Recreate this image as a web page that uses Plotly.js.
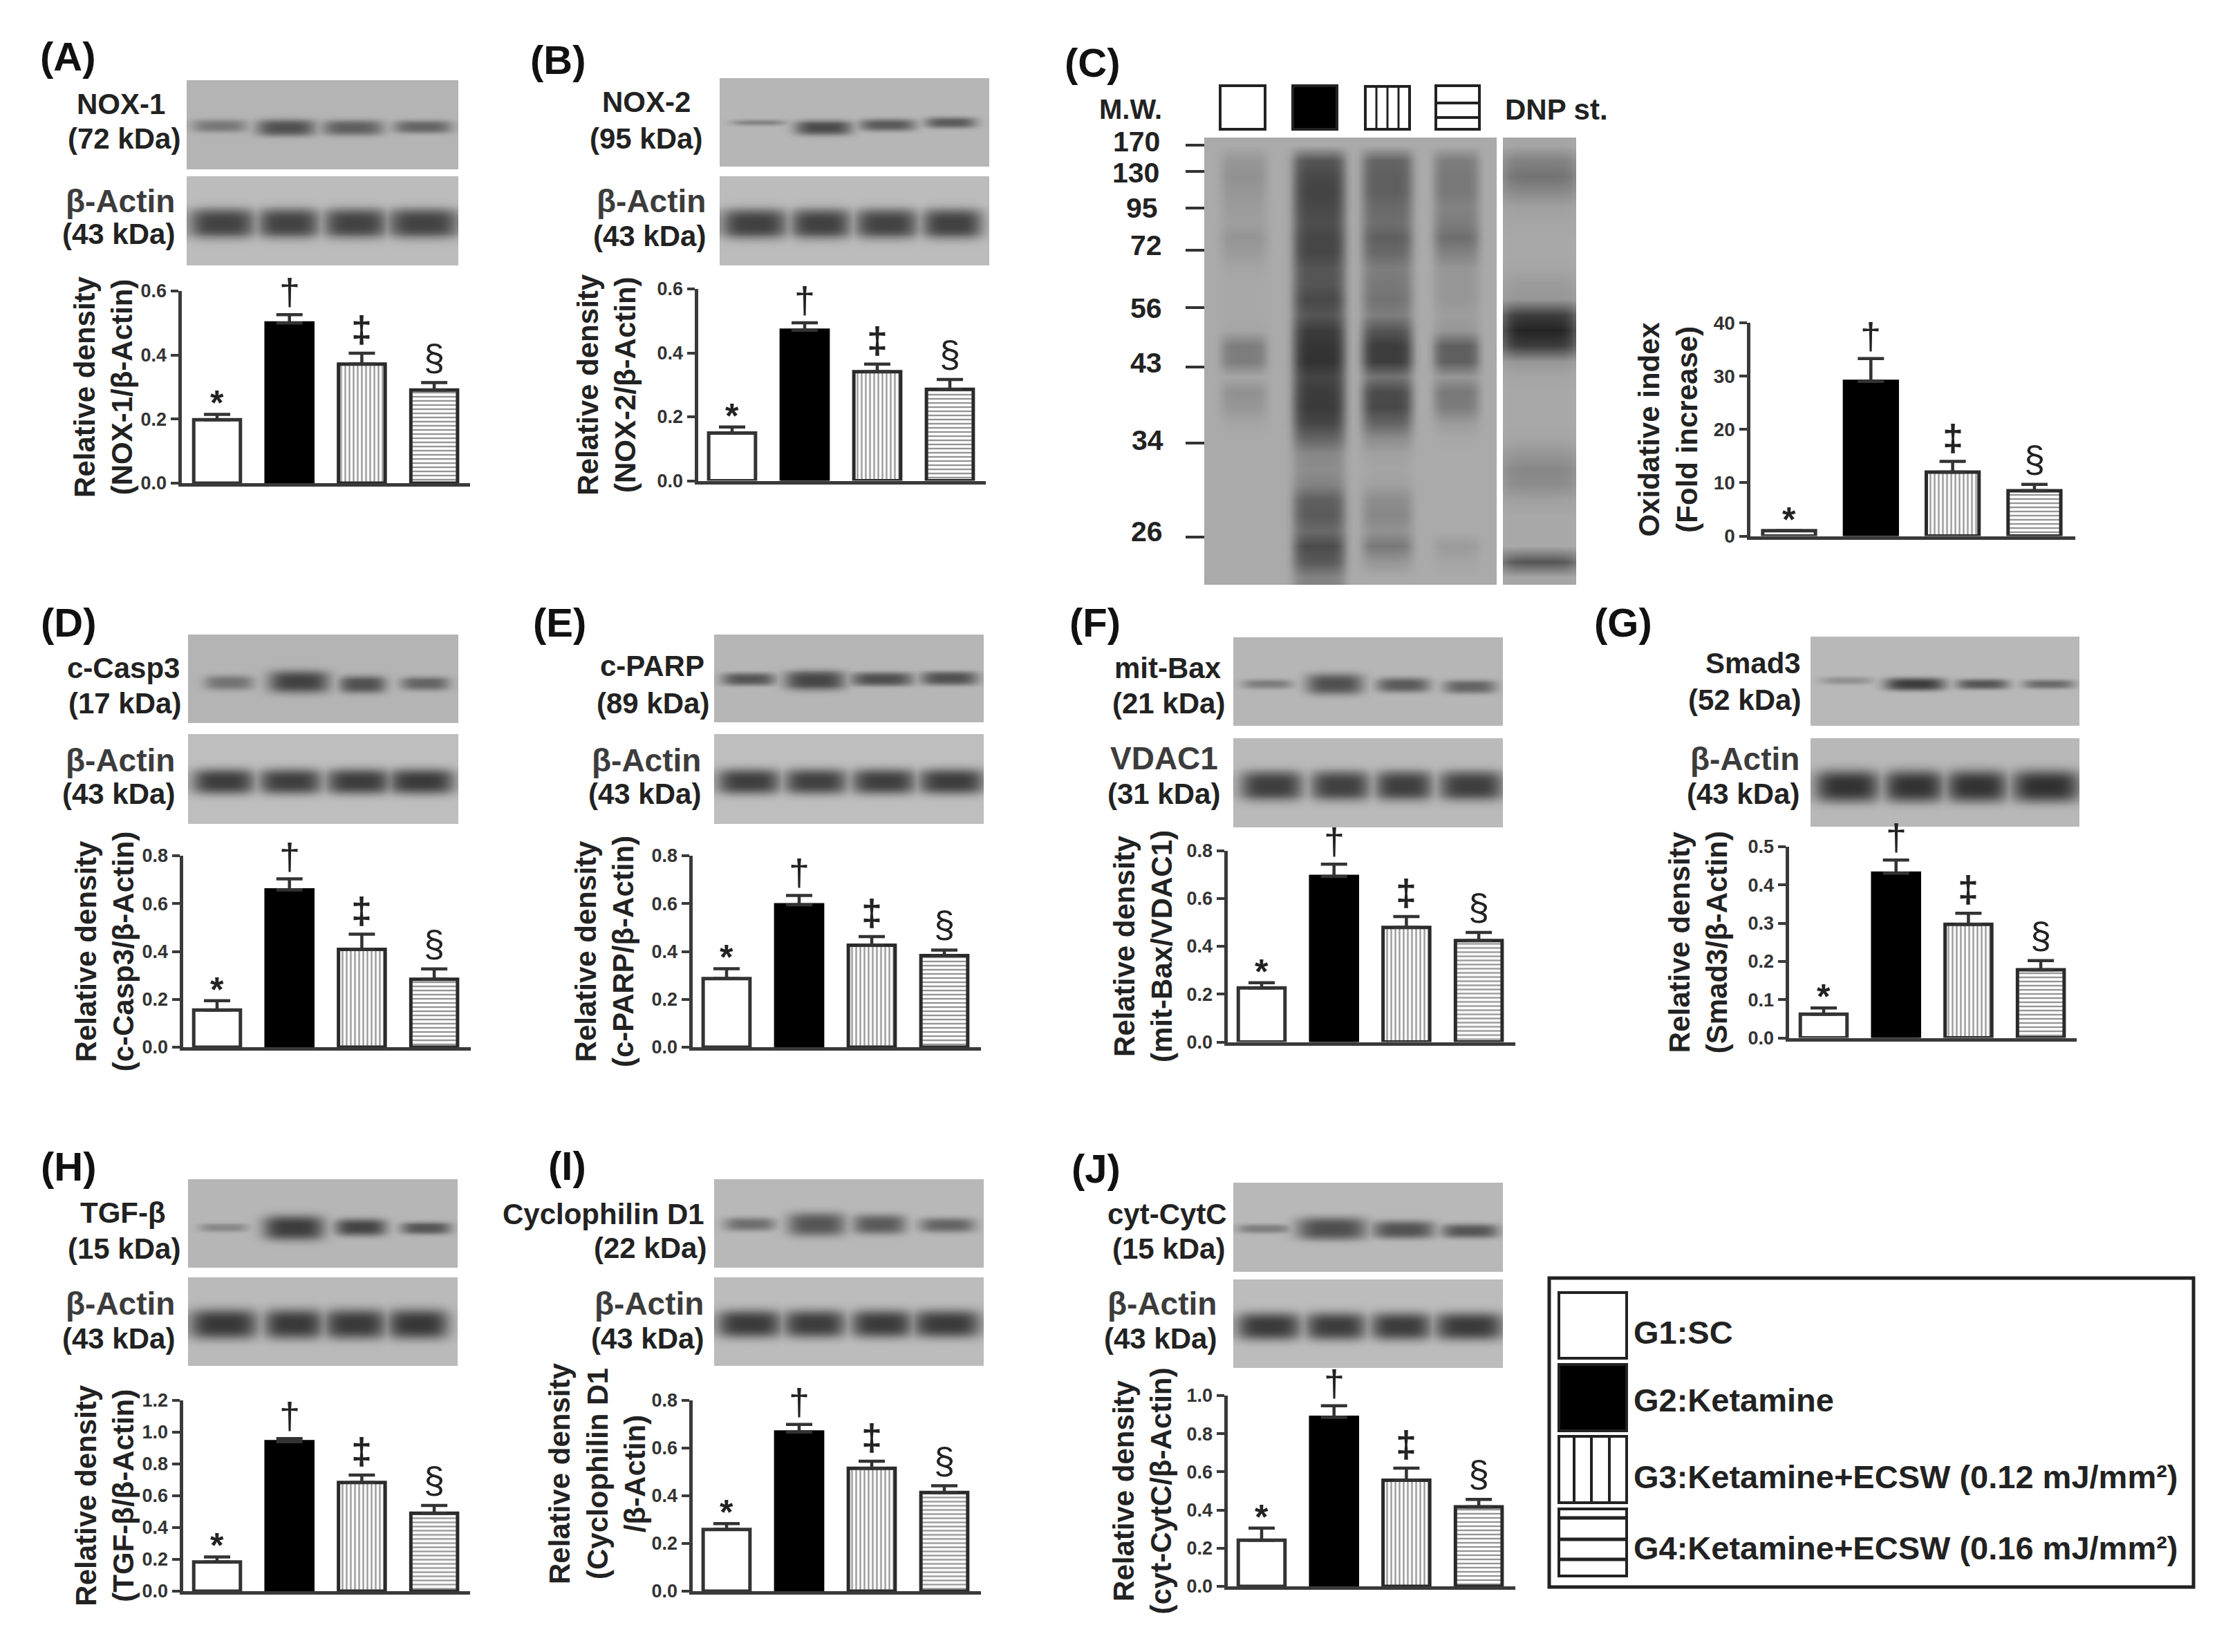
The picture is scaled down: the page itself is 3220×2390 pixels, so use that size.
<!DOCTYPE html>
<html><head><meta charset="utf-8">
<script src="https://cdn.plot.ly/plotly-3.0.1.min.js"></script>
<style>html,body{margin:0;padding:0;background:#fff}#chart{width:3220px;height:2390px}</style>
</head><body><div id="chart"></div>
<script>
// ---------- chart values ----------
const groups = ['G1', 'G2', 'G3', 'G4'];
const marks = ['*', '†', '‡', '§'];
const legendLabels = ['G1:SC', 'G2:Ketamine', 'G3:Ketamine+ECSW (0.12 mJ/mm²)', 'G4:Ketamine+ECSW (0.16 mJ/mm²)'];

const noxOneMean = [0.198, 0.500, 0.372, 0.291],  noxOneErr = [0.017, 0.026, 0.034, 0.023];
const noxTwoMean = [0.149, 0.471, 0.341, 0.286],  noxTwoErr = [0.019, 0.023, 0.024, 0.031];
const oxidMean   = [1.0, 29.0, 12.0, 8.5],        oxidErr   = [0, 4.3, 2.0, 1.2];
const caspMean   = [0.155, 0.657, 0.409, 0.284],  caspErr   = [0.039, 0.046, 0.063, 0.043];
const parpMean   = [0.287, 0.595, 0.426, 0.383],  parpErr   = [0.041, 0.039, 0.036, 0.023];
const baxMean    = [0.226, 0.692, 0.479, 0.424],  baxErr    = [0.022, 0.051, 0.045, 0.034];
const smadMean   = [0.062, 0.431, 0.297, 0.178],  smadErr   = [0.016, 0.034, 0.029, 0.024];
const tgfMean    = [0.183, 0.938, 0.682, 0.489],  tgfErr    = [0.032, 0.020, 0.047, 0.049];
const cypMean    = [0.258, 0.666, 0.514, 0.413],  cypErr    = [0.025, 0.032, 0.030, 0.028];
const cytcMean   = [0.242, 0.886, 0.556, 0.417],  cytcErr   = [0.063, 0.061, 0.064, 0.039];

const ticksSix  = ['0.0', '0.2', '0.4', '0.6'];
const ticksEight = ['0.0', '0.2', '0.4', '0.6', '0.8'];
const ticksOxid = ['0', '10', '20', '30', '40'];
const ticksSmad = ['0.0', '0.1', '0.2', '0.3', '0.4', '0.5'];
const ticksTgf  = ['0.0', '0.2', '0.4', '0.6', '0.8', '1.0', '1.2'];
const ticksCytc = ['0.0', '0.2', '0.4', '0.6', '0.8', '1.0'];

// Band darkness per lane (grey level at the band core), target blot then loading control
const tonesNoxOne = [120, 80, 95, 100],  tonesActinA = [66, 66, 66, 66];
const tonesNoxTwo = [130, 75, 90, 90],   tonesActinB = [64, 64, 66, 64];
const tonesCasp   = [115, 65, 80, 100],  tonesActinD = [60, 62, 60, 58];
const tonesParp   = [85, 70, 78, 80],    tonesActinE = [62, 64, 62, 60];
const tonesBax    = [125, 80, 90, 100],  tonesVdac   = [62, 64, 62, 62];
const tonesSmad   = [145, 60, 85, 105],  tonesActinG = [50, 50, 50, 48];
const tonesTgf    = [135, 60, 68, 85],   tonesActinH = [55, 57, 57, 55];
const tonesCyp    = [110, 85, 90, 100],  tonesActinI = [58, 60, 58, 58];
const tonesCytc   = [125, 78, 82, 85],   tonesActinJ = [58, 60, 60, 58];

// Oxidized-protein gel: grey level down each lane, top to bottom
const gelG1 = [170,150,145,150,155,158,148,155,165,168,168,168,165,125,125,165,145,150,165,170,170,170,170,170,170,170,170,170,170];
const gelG2 = [170,85,72,68,72,78,70,70,85,85,72,85,60,52,50,68,60,58,70,100,135,140,130,95,90,105,75,90,130];
const gelG3 = [170,100,95,95,105,110,95,105,125,120,115,125,85,60,60,115,75,72,100,140,160,165,160,140,135,145,120,150,170];
const gelG4 = [170,125,120,120,130,125,110,130,150,150,150,158,150,95,95,150,120,125,155,168,170,170,170,170,170,170,155,165,170];
const gelDnp = [165,130,115,135,160,165,168,168,165,155,150,60,35,60,150,165,168,168,168,165,150,135,140,160,168,168,168,85,165];
const gelMarkers = ['170', '130', '95', '72', '56', '43', '34', '26'];

// ---------- page geometry ----------
const W = 3220, H = 2390;
const FONT = '"Liberation Sans", Arial, sans-serif';
const INK = '#222222', AXIS = '#3a3a3a';
const xp = x => x / W, yp = y => 1 - y / H;

const panels = [
  {id:'A', label:[56,82],   mean:noxOneMean, err:noxOneErr, ticks:ticksSix,  box:[260,680,421,701.5],  first:314,  step:104.7, off:0,
   title:'Relative density<br>(NOX-1/β-Actin)'},
  {id:'B', label:[765,87],  mean:noxTwoMean, err:noxTwoErr, ticks:ticksSix,  box:[1007,1426,418,698],  first:1059, step:105,   off:19,
   title:'Relative density<br>(NOX-2/β-Actin)'},
  {id:'C', label:[1538,90], mean:oxidMean,   err:oxidErr,   ticks:ticksOxid, box:[2529,3002,467,778],  first:2588, step:118.3, off:12, wide:true,
   title:'Oxidative index<br>(Fold increase)'},
  {id:'D', label:[57,901],  mean:caspMean,   err:caspErr,   ticks:ticksEight,box:[262,681,1238,1517.5],first:314,  step:104.7, off:0,
   title:'Relative density<br>(c-Casp3/β-Actin)'},
  {id:'E', label:[769,901], mean:parpMean,   err:parpErr,   ticks:ticksEight,box:[999,1419,1238,1517.5],first:1051,step:105,   off:14,
   title:'Relative density<br>(c-PARP/β-Actin)'},
  {id:'F', label:[1545,901],mean:baxMean,    err:baxErr,    ticks:ticksEight,box:[1773,2192,1230.5,1510],first:1825,step:104.7,off:9,
   title:'Relative density<br>(mit-Bax/VDAC1)'},
  {id:'G', label:[2304,901],mean:smadMean,   err:smadErr,   ticks:ticksSmad, box:[2585,3004,1225,1504],first:2638, step:104.7, off:18,
   title:'Relative density<br>(Smad3/β-Actin)'},
  {id:'H', label:[57,1687], mean:tgfMean,    err:tgfErr,    ticks:ticksTgf,  box:[262,680,2025.5,2304.5],first:314,step:104.7, off:0,
   title:'Relative density<br>(TGF-β/β-Actin)'},
  {id:'I', label:[791,1686],mean:cypMean,    err:cypErr,    ticks:ticksEight,box:[999,1419,2025.5,2304.5],first:1051,step:105, off:12,
   title:null},
  {id:'J', label:[1548,1690],mean:cytcMean,  err:cytcErr,   ticks:ticksCytc, box:[1773,2192,2019,2297.5],first:1825,step:104.7,off:10,
   title:'Relative density<br>(cyt-CytC/β-Actin)'}
];

// [text, right edge, vertical centre] of the lines beside each blot
const blotLabels = [
  ['NOX-1',241,150],['(72 kDa)',263,200],['β-Actin',255,291],['(43 kDa)',255,339],
  ['NOX-2',1001,148],['(95 kDa)',1018,200],['β-Actin',1023,291],['(43 kDa)',1023,341],
  ['c-Casp3',262,966],['(17 kDa)',264,1017],['β-Actin',255,1100],['(43 kDa)',255,1148],
  ['c-PARP',1021,964],['(89 kDa)',1028,1017],['β-Actin',1016,1100],['(43 kDa)',1016,1148],
  ['mit-Bax',1769,966],['(21 kDa)',1774,1017],['VDAC1',1764,1097],['(31 kDa)',1767,1148],
  ['Smad3',2607,960],['(52 kDa)',2607,1012],['β-Actin',2605,1098],['(43 kDa)',2605,1148],
  ['TGF-β',242,1755],['(15 kDa)',263,1806],['β-Actin',255,1886],['(43 kDa)',255,1936],
  ['Cyclophilin D1',1021,1756],['(22 kDa)',1024,1805],['β-Actin',1020,1886],['(43 kDa)',1020,1936],
  ['cyt-CytC',1777,1756],['(15 kDa)',1774,1806],['β-Actin',1762,1886],['(43 kDa)',1762,1936]
];
const loadingControls = ['β-Actin', 'VDAC1'];

// Each blot: pixel box, background grey, lane tones, and band placement as fractions of the box
const blots = [
  {box:[270,663,116,245], bg:180, tones:tonesNoxOne, cx:[.12,.365,.61,.868], hw:[.094,.10,.104,.10], cy:[.51,.53,.53,.52], hh:[.05,.065,.06,.05]},
  {box:[270,663,255,384], bg:188, load:true, tones:tonesActinA, cx:[.13,.375,.62,.87],  hw:[.115,.107,.11,.125], cy:[.525,.525,.525,.525], hh:[.14,.14,.14,.14]},
  {box:[1041,1431,113,241], bg:182, tones:tonesNoxTwo, cx:[.143,.383,.62,.854], hw:[.093,.098,.097,.088], cy:[.50,.558,.526,.50], hh:[.025,.06,.05,.045]},
  {box:[1041,1431,255,384], bg:188, load:true, tones:tonesActinB, cx:[.127,.373,.617,.86], hw:[.115,.105,.11,.105], cy:[.53,.53,.53,.53], hh:[.14,.14,.14,.14]},
  {box:[272,663,918,1046], bg:180, tones:tonesCasp, cx:[.15,.409,.645,.877], hw:[.084,.104,.08,.083], cy:[.54,.53,.56,.55], hh:[.06,.09,.07,.055]},
  {box:[272,663,1062,1192], bg:190, load:true, tones:tonesActinD, cx:[.13,.378,.63,.863], hw:[.108,.11,.113,.115], cy:[.525,.525,.525,.525], hh:[.12,.12,.12,.12]},
  {box:[1033,1423,918,1045], bg:182, tones:tonesParp, cx:[.126,.372,.62,.87], hw:[.092,.104,.107,.098], cy:[.505,.52,.505,.495], hh:[.05,.08,.055,.055]},
  {box:[1033,1423,1062,1192], bg:190, load:true, tones:tonesActinE, cx:[.127,.375,.627,.878], hw:[.11,.11,.112,.115], cy:[.525,.525,.525,.525], hh:[.12,.12,.12,.12]},
  {box:[1784,2174,922,1050], bg:182, tones:tonesBax, cx:[.124,.374,.628,.875], hw:[.087,.098,.091,.09], cy:[.525,.525,.535,.555], hh:[.04,.085,.06,.055]},
  {box:[1784,2174,1068,1197], bg:186, load:true, tones:tonesVdac, cx:[.14,.395,.63,.88], hw:[.109,.103,.10,.112], cy:[.53,.53,.53,.53], hh:[.14,.14,.14,.14]},
  {box:[2619,3008,921,1050], bg:184, tones:tonesSmad, cx:[.134,.388,.638,.884], hw:[.09,.104,.09,.088], cy:[.49,.53,.53,.53], hh:[.03,.05,.04,.035]},
  {box:[2619,3008,1068,1196], bg:184, load:true, tones:tonesActinG, cx:[.137,.384,.617,.873], hw:[.112,.103,.106,.118], cy:[.54,.54,.54,.54], hh:[.15,.15,.15,.15]},
  {box:[272,662,1706,1834], bg:182, tones:tonesTgf, cx:[.13,.39,.638,.88], hw:[.084,.105,.088,.086], cy:[.545,.545,.54,.55], hh:[.035,.10,.07,.05]},
  {box:[272,662,1848,1976], bg:186, load:true, tones:tonesActinH, cx:[.13,.39,.618,.85], hw:[.118,.103,.108,.106], cy:[.525,.525,.525,.525], hh:[.14,.14,.14,.14]},
  {box:[1033,1423,1706,1834], bg:184, tones:tonesCyp, cx:[.13,.378,.61,.862], hw:[.088,.10,.091,.095], cy:[.505,.507,.507,.515], hh:[.055,.095,.08,.06]},
  {box:[1033,1423,1848,1976], bg:188, load:true, tones:tonesActinI, cx:[.129,.37,.62,.86], hw:[.113,.109,.107,.118], cy:[.522,.522,.522,.522], hh:[.13,.13,.13,.13]},
  {box:[1784,2174,1711,1840], bg:184, tones:tonesCytc, cx:[.112,.363,.629,.875], hw:[.093,.121,.107,.099], cy:[.513,.513,.524,.538], hh:[.035,.09,.07,.055]},
  {box:[1784,2174,1851,1979], bg:188, load:true, tones:tonesActinJ, cx:[.13,.378,.62,.872], hw:[.112,.106,.106,.12], cy:[.526,.526,.526,.526], hh:[.13,.13,.13,.13]}
];

const gelBox = [1742,2165,199,846], dnpBox = [2174,2280,199,846];
const gelLanes = [[.135,.08,gelG1],[.393,.09,gelG2],[.625,.087,gelG3],[.862,.08,gelG4]];

const markerRows = [[210,205],[248,250],[301,301],[362,355],[445,446],[531,525],[641,637],[777,769]];
const markerRight = [1680,1679,1677,1683,1683,1683,1685,1684];

const markStyle = {
  '*': {size:50, weight:700, shift:-14},
  '†': {size:54, weight:400, shift:1},
  '‡': {size:54, weight:700, shift:3},
  '§': {size:54, weight:400, shift:5}
};
const barStyle = [
  {color:'#ffffff', line:'#333333', shape:''},
  {color:'#000000', line:'#000000', shape:''},
  {color:'#ffffff', line:'#2a2a2a', shape:'|'},
  {color:'#ffffff', line:'#2a2a2a', shape:'-'}
];

// ---------- assemble ----------
const traces = [], annotations = [], shapes = [], layout = {
  width:W, height:H, margin:{l:0,r:0,t:0,b:0}, autosize:false, barmode:'overlay',
  paper_bgcolor:'#ffffff', plot_bgcolor:'rgba(0,0,0,0)', showlegend:false,
  hovermode:false
};
let axisNo = 0;
function newAxes(xa, ya){
  axisNo += 1;
  const s = axisNo === 1 ? '' : String(axisNo);
  layout['xaxis'+s] = Object.assign({anchor:'y'+s}, xa);
  layout['yaxis'+s] = Object.assign({anchor:'x'+s}, ya);
  return ['x'+s, 'y'+s];
}
function text(t, x, y, size, opts){
  annotations.push(Object.assign({
    text:t, x:xp(x), y:yp(y), xref:'paper', yref:'paper', showarrow:false,
    xanchor:'right', yanchor:'middle',
    font:{family:FONT, size:size, color:INK, weight:700}
  }, opts||{}));
}
function addHeat(box, z){
  const hidden = {visible:false, fixedrange:true};
  const [xa, ya] = newAxes(
    Object.assign({domain:[xp(box[0]), xp(box[1])], range:[0,1]}, hidden),
    Object.assign({domain:[yp(box[3]), yp(box[2])], range:[1,0]}, hidden));
  const nr = z.length, nc = z[0].length;
  traces.push({type:'heatmap', xaxis:xa, yaxis:ya, z:z,
    x:z[0].map((_,i)=>(i+.5)/nc), y:z.map((_,i)=>(i+.5)/nr),
    zmin:0, zmax:255, zsmooth:'best', showscale:false, hoverinfo:'skip',
    colorscale:[[0,'#000000'],[1,'#ffffff']]});
}

// western-blot strips
blots.forEach(b => {
  const nr = 44, nc = 78, z = [], thick = b.load ? 1.2 : 1.4;
  for (let r = 0; r < nr; r++){
    const row = [];
    for (let c = 0; c < nc; c++){
      const fx = (c+.5)/nc, fy = (r+.5)/nr;
      let v = b.bg;
      b.tones.forEach((t,i) => {
        const d = Math.exp(-Math.pow(Math.abs(fx-b.cx[i])/(b.hw[i]*1.08),4) - Math.pow(Math.abs(fy-b.cy[i])/(b.hh[i]*thick),3));
        v = Math.min(v, b.bg-(b.bg-t)*d);
      });
      row.push(Math.round(v));
    }
    z.push(row);
  }
  addHeat(b.box, z);
});

// oxidized-protein gel
(function(){
  const nc = 60, bg = 170, z = [];
  gelG1.forEach((_,r) => {
    const row = [];
    for (let c = 0; c < nc; c++){
      const fx = (c+.5)/nc;
      let v = bg;
      gelLanes.forEach(l => {
        const d = Math.exp(-Math.pow(Math.abs(fx-l[0])/l[1],6));
        v = Math.min(v, bg-(bg-l[2][r])*d);
      });
      row.push(Math.round(v));
    }
    z.push(row);
  });
  addHeat(gelBox, z);
  const zd = gelDnp.map(t => { const row = [];
    for (let c = 0; c < 16; c++){ const fx = (c+.5)/16;
      row.push(Math.round(bg-(bg-t)*Math.exp(-Math.pow(Math.abs(fx-.5)/.55,6)))); }
    return row; });
  addHeat(dnpBox, zd);
})();

// bar panels
panels.forEach(p => {
  const [x0,x1,top,zero] = p.box;
  const left = x0+2.5, bottom = zero-2.5;
  const tv = p.ticks.map(Number);
  const [xa, ya] = newAxes({
    domain:[xp(left), xp(x1)], type:'category', categoryarray:groups, categoryorder:'array',
    range:[(left-p.first)/p.step, (x1-p.first)/p.step],
    showticklabels:false, ticks:'', showgrid:false, zeroline:false,
    showline:true, linewidth:5, linecolor:AXIS, fixedrange:true
  },{
    domain:[yp(bottom), yp(top)], range:[0, tv[tv.length-1]],
    tickvals:tv, ticktext:p.ticks, ticks:'outside', ticklen:11, tickwidth:4, tickcolor:AXIS,
    tickfont:{family:FONT, size:p.wide?28:27, color:'#333333', weight:700},
    showgrid:false, zeroline:false, showline:true, linewidth:5, linecolor:AXIS, fixedrange:true,
    title: p.title ? {text:p.title, standoff:p.off, font:{family:FONT, size:42, color:INK, weight:700}} : undefined
  });
  groups.forEach((g,i) => {
    const s = barStyle[i];
    traces.push({
      type:'bar', name:g, xaxis:xa, yaxis:ya, x:[g], y:[p.mean[i]], width:.645, cliponaxis:false, hoverinfo:'skip',
      marker:{
        color:s.color, line:{color:s.line, width:5},
        pattern:{shape:s.shape, size:6, solidity:.4, fgcolor:'#959595', bgcolor:'#ffffff', fillmode:'replace'}
      },
      error_y:{type:'data', symmetric:false, array:[p.err[i]], arrayminus:[0], thickness:4.5, width:19, color:'#333333'}
    });
  });
  marks.forEach((m,i) => {
    const st = markStyle[m];
    annotations.push({text:m, x:i, y:p.mean[i]+p.err[i], xref:xa, yref:ya, showarrow:false,
      xanchor:'center', yanchor:'bottom', yshift:st.shift,
      font:{family:FONT, size:st.size, color:INK, weight:st.weight}});
  });
  text('('+p.id+')', p.label[0], p.label[1], 58, {xanchor:'left', font:{family:FONT,size:58,color:'#111111',weight:700}});
});

// panel I title sits above its axis centre
text('Relative density<br>(Cyclophilin D1<br>/β-Actin)', 864, 2132, 42, {xanchor:'center', textangle:-90, align:'center'});

blotLabels.forEach(l => {
  const control = loadingControls.includes(l[0]);
  text(l[0], l[1], l[2], control ? 46 : 42, {font:{family:FONT, size:control ? 46 : 42, color:control ? '#3c3c3c' : INK, weight:700}});
});

// gel header and size ladder
text('M.W.', 1683, 158, 40);
text('DNP st.', 2175, 158, 42, {xanchor:'left'});
gelMarkers.forEach((m,i) => {
  text(m, markerRight[i], markerRows[i][1], 41);
  shapes.push({type:'line', xref:'paper', yref:'paper', x0:xp(1715), x1:xp(1742), y0:yp(markerRows[i][0]), y1:yp(markerRows[i][0]), line:{color:'#333333', width:4}});
});

// group swatches
function rectShape(x0,x1,y0,y1,fill,lw){
  shapes.push({type:'rect', xref:'paper', yref:'paper', x0:xp(x0), x1:xp(x1), y0:yp(y1), y1:yp(y0),
    fillcolor:fill, line:{color:'#222222', width:lw}});
}
function lineShape(x0,x1,y0,y1,lw){
  shapes.push({type:'line', xref:'paper', yref:'paper', x0:xp(x0), x1:xp(x1), y0:yp(y0), y1:yp(y1), line:{color:'#222222', width:lw}});
}
rectShape(1765,1830,124,187,'#ffffff',4);
rectShape(1870,1934,124,187,'#000000',4);
rectShape(1975,2039,125,187,'#ffffff',4);
[1991,2007,2023].forEach(x => lineShape(x,x,125,187,3));
rectShape(2077,2140,124,187,'#ffffff',4);
[149,170].forEach(y => lineShape(2077,2140,y,y,4));

// legend box
rectShape(2241,3173,1849,2296,'rgba(255,255,255,0)',5);
rectShape(2255,2353,1870,1965,'#ffffff',4);
rectShape(2255,2353,1974,2070,'#000000',4);
rectShape(2255,2353,2078,2174,'#ffffff',4);
[2277,2302,2328].forEach(x => lineShape(x,x,2078,2174,4));
rectShape(2255,2353,2183,2280,'#ffffff',4);
[2196,2227,2256].forEach(y => lineShape(2255,2353,y,y,5));
[1927,2025,2136,2239].forEach((y,i) => text(legendLabels[i], 2361, y, 47, {xanchor:'left'}));

layout.annotations = annotations;
layout.shapes = shapes;
Plotly.newPlot('chart', traces, layout, {displayModeBar:false, staticPlot:true}).then(() => {
  // keep pattern fills resolvable whatever address the page is opened from
  document.querySelectorAll('.bars path').forEach(el => {
    const m = (el.style.fill || '').match(/url\(["']?[^#"')]*#([^"')]+)["']?\)/);
    if (m) el.style.fill = 'url(#' + m[1] + ')';
  });
});
</script></body></html>
